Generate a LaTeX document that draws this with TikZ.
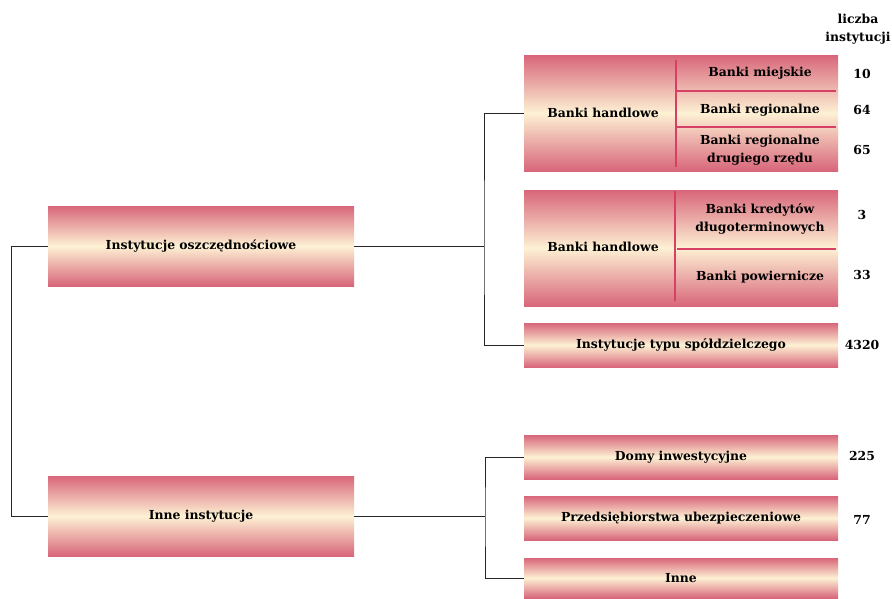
\documentclass[tikz,border=0pt]{standalone}
\usepackage{fontspec}
\setmainfont{DejaVu Serif}
\usepackage{tikz}
\usetikzlibrary{positioning}

\definecolor{boxred}{RGB}{216,102,122}
\definecolor{boxcream}{RGB}{253,241,212}
\definecolor{divred}{RGB}{214,64,100}

\begin{document}
\begin{tikzpicture}[x=1pt,y=-1pt,font=\bfseries\fontsize{12.4}{18}\selectfont]
\tikzstyle{inst} = [rectangle, top color=boxred, bottom color=boxred, middle color=boxcream, minimum width=314, minimum height=44, inner sep=0pt]
\tikzstyle{group} = [inst, minimum width=306, minimum height=80]
\tikzstyle{sub} = [align=center, text width=160]
\tikzstyle{count} = [align=center]
\tikzstyle{divider} = [divred, line width=2pt]
\tikzstyle{link} = [black!85, line width=0.9pt]
\useasboundingbox (0,0) rectangle (892,598);

% lewa strona
\node[group] (oszcz) at (201,246) {Instytucje oszczędnościowe};
\node[group] (inne) at (201,516) {Inne instytucje};

% banki handlowe
\node[inst, minimum height=116] (bh1) at (681,113) {};
\node[inst, minimum height=116] (bh2) at (681,248) {};
\node[inst] (spoldz) at (681,345) {Instytucje typu spółdzielczego};
\node (bh1txt) at (603,113) {Banki handlowe};
\node (bh2txt) at (603,247) {Banki handlowe};
\node[sub] (miejskie) at (760,73) {Banki miejskie};
\node[sub] (regionalne) at (760,110) {Banki regionalne};
\node[sub] (drugiego) at (760,150) {Banki regionalne\\drugiego rzędu};
\node[sub] (kredytow) at (760,219) {Banki kredytów\\długoterminowych};
\node[sub] (powiernicze) at (760,277) {Banki powiernicze};
\draw[divider] (676,60) -- (676,167);
\draw[divider] (677,91) -- (836,91);
\draw[divider] (677,127) -- (836,127);
\draw[divider] (675,191) -- (675,301);
\draw[divider] (677,249) -- (836,249);

% inne
\node[inst] (domy) at (681,457) {Domy inwestycyjne};
\node[inst] (ubezp) at (681,518) {Przedsiębiorstwa ubezpieczeniowe};
\node[inst, minimum height=40] (pozostale) at (681,578) {Inne};

% liczby
\node[count, inner sep=1pt] (naglowek) at (858,29) {liczba\\instytucji};
\node[count] (n10) at (862,74) {10};
\node[count] (n64) at (862,110) {64};
\node[count] (n65) at (862,150) {65};
\node[count] (n3) at (862,215) {3};
\node[count] (n33) at (862,275) {33};
\node[count] (n4320) at (862,345) {4320};
\node[count] (n225) at (862,456) {225};
\node[count] (n77) at (862,520) {77};

% polaczenia
\coordinate (lb) at (11,246);
\coordinate (rb) at (484,246);
\coordinate (rc) at (485,516);
\draw[link] (oszcz.west) -- (lb) |- (inne.west);
\draw[link] (oszcz.east) -- (rb);
\draw[link] (bh1.west) -| (rb) |- (spoldz.west);
\draw[link] (inne.east) -- (rc);
\draw[link] (domy.west) -| (rc) |- (pozostale.west);
\end{tikzpicture}
\end{document}
